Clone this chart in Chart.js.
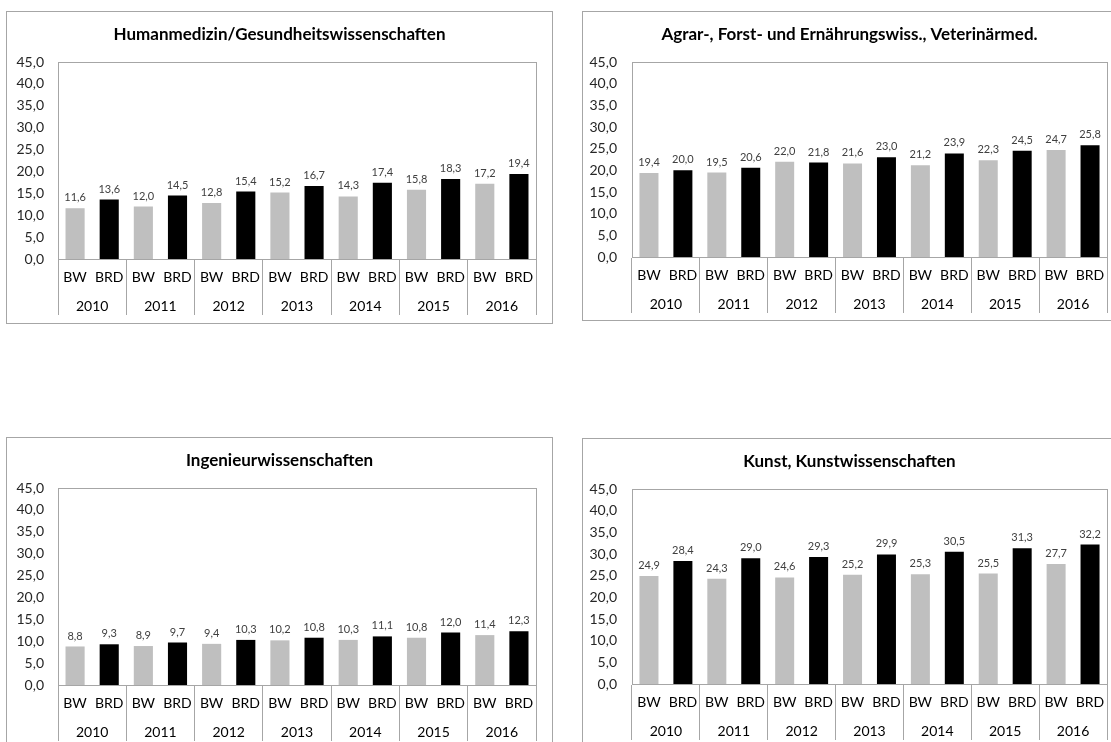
<!DOCTYPE html>
<html>
<head>
<meta charset="utf-8">
<script src="https://cdn.jsdelivr.net/npm/chart.js@4/dist/chart.umd.min.js"></script>
<style>
  html, body { margin: 0; padding: 0; background: #fff; }
  body { width: 1111px; height: 742px; overflow: hidden; position: relative; }
  .box { position: absolute; border: 1px solid #a6a6a6; background: #fff; }
  .box canvas { display: block; }
</style>
</head>
<body>
<div class="box" style="left:6px;top:11px;"><canvas id="c1" width="545" height="311"></canvas></div>
<div class="box" style="left:582px;top:11px;"><canvas id="c2" width="533" height="308"></canvas></div>
<div class="box" style="left:6px;top:437px;"><canvas id="c3" width="545" height="311"></canvas></div>
<div class="box" style="left:582px;top:438px;"><canvas id="c4" width="533" height="308"></canvas></div>
<script>
// Categories
const years = ['2010', '2011', '2012', '2013', '2014', '2015', '2016'];
const groups = ['BW', 'BRD'];

// Axis range
const yMin = 0;
const yMax = 45;
const yStep = 5;

// Humanmedizin/Gesundheitswissenschaften
const humanBW  = [11.6, 12.0, 12.8, 15.2, 14.3, 15.8, 17.2];
const humanBRD = [13.6, 14.5, 15.4, 16.7, 17.4, 18.3, 19.4];

// Agrar-, Forst- und Ernährungswiss., Veterinärmed.
const agrarBW  = [19.4, 19.5, 22.0, 21.6, 21.2, 22.3, 24.7];
const agrarBRD = [20.0, 20.6, 21.8, 23.0, 23.9, 24.5, 25.8];

// Ingenieurwissenschaften
const ingBW  = [8.8, 8.9, 9.4, 10.2, 10.3, 10.8, 11.4];
const ingBRD = [9.3, 9.7, 10.3, 10.8, 11.1, 12.0, 12.3];

// Kunst, Kunstwissenschaften
const kunstBW  = [24.9, 24.3, 24.6, 25.2, 25.3, 25.5, 27.7];
const kunstBRD = [28.4, 29.0, 29.3, 29.9, 30.5, 31.3, 32.2];

Chart.defaults.font.family = 'Lato, "Open Sans", sans-serif';

const LINE = '#a6a6a6';
const fmt = v => v.toFixed(1).replace('.', ',');

// Frame around the plotting area
const plotFrame = {
  id: 'plotFrame',
  afterDraw(chart) {
    const a = chart.chartArea;
    const ctx = chart.ctx;
    ctx.save();
    ctx.strokeStyle = LINE;
    ctx.lineWidth = 1;
    ctx.strokeRect(Math.round(a.left) + 0.5, Math.round(a.top) + 0.5,
                   Math.round(a.right - a.left), Math.round(a.bottom - a.top));
    ctx.restore();
  }
};

// Value printed above every bar
const valueLabels = {
  id: 'valueLabels',
  afterDatasetsDraw(chart) {
    const ctx = chart.ctx;
    ctx.save();
    ctx.font = '11px ' + Chart.defaults.font.family;
    ctx.fillStyle = '#404040';
    ctx.textAlign = 'center';
    ctx.textBaseline = 'bottom';
    chart.data.datasets.forEach((ds, i) => {
      chart.getDatasetMeta(i).data.forEach((bar, j) => {
        ctx.fillText(fmt(ds.data[j]), bar.x, bar.y - 5);
      });
    });
    ctx.restore();
  }
};

// axisW: width of the value axis, sideW: empty margin right of the plot
function makeChart(id, title, bw, brd, axisW, sideW, bottom, tickPad) {
  const subLabels = years.flatMap(() => groups);
  return new Chart(document.getElementById(id), {
    type: 'bar',
    data: {
      labels: years,
      datasets: [
        { label: 'BW',  data: bw,  backgroundColor: '#bfbfbf', xAxisID: 'x', yAxisID: 'y',
          categoryPercentage: 1, barPercentage: 0.56 },
        { label: 'BRD', data: brd, backgroundColor: '#000000', xAxisID: 'x', yAxisID: 'y',
          categoryPercentage: 1, barPercentage: 0.56 }
      ]
    },
    options: {
      responsive: false,
      animation: false,
      layout: { padding: { left: 0, right: 0, top: 0, bottom: bottom } },
      plugins: {
        legend: { display: false },
        tooltip: { enabled: false },
        title: {
          display: true,
          text: title,
          color: '#000',
          font: { size: 17, weight: 'bold' },
          padding: { top: 12, bottom: 17.6 }
        }
      },
      scales: {
        y: {
          min: yMin, max: yMax,
          grid: { display: false, drawTicks: false },
          border: { display: true, color: LINE },
          ticks: { stepSize: yStep, callback: v => fmt(v), color: '#262626',
                   font: { size: 14 }, padding: tickPad },
          afterFit: s => { s.width = axisW; }
        },
        margin: {
          type: 'linear',
          axis: 'y',
          position: 'right',
          display: true,
          grid: { display: false, drawTicks: false },
          border: { display: false },
          ticks: { display: false },
          afterFit: s => { s.width = sideW; }
        },
        sub: {
          type: 'category',
          axis: 'x',
          position: 'bottom',
          weight: 1,
          labels: subLabels,
          offset: true,
          grid: {
            offset: true,
            drawOnChartArea: false,
            drawTicks: true,
            tickLength: 33,
            color: ctx => (ctx.index === undefined || ctx.index % 2 === 0) ? LINE : 'rgba(0,0,0,0)'
          },
          border: { display: true, color: LINE },
          ticks: { autoSkip: false, maxRotation: 0, color: '#000', font: { size: 14 }, padding: -22.7 },
          afterFit: s => { s.height = 33; }
        },
        x: {
          type: 'category',
          position: 'bottom',
          weight: 2,
          offset: true,
          grid: { offset: true, drawOnChartArea: false, drawTicks: true, tickLength: 23, color: LINE },
          border: { display: false },
          ticks: { autoSkip: false, maxRotation: 0, color: '#000', font: { size: 14 }, padding: -17.4 },
          afterFit: s => { s.height = 23; }
        }
      }
    },
    plugins: [plotFrame, valueLabels]
  });
}

makeChart('c1', 'Humanmedizin/Gesundheitswissenschaften', humanBW, humanBRD, 51, 16, 8, 14);
makeChart('c2', 'Agrar-, Forst- und Ernährungswiss., Veterinärmed.', agrarBW, agrarBRD, 49, 9, 7, 15);
makeChart('c3', 'Ingenieurwissenschaften', ingBW, ingBRD, 51, 16, 8, 14);
makeChart('c4', 'Kunst, Kunstwissenschaften', kunstBW, kunstBRD, 49, 9, 7, 15);
</script>
</body>
</html>
